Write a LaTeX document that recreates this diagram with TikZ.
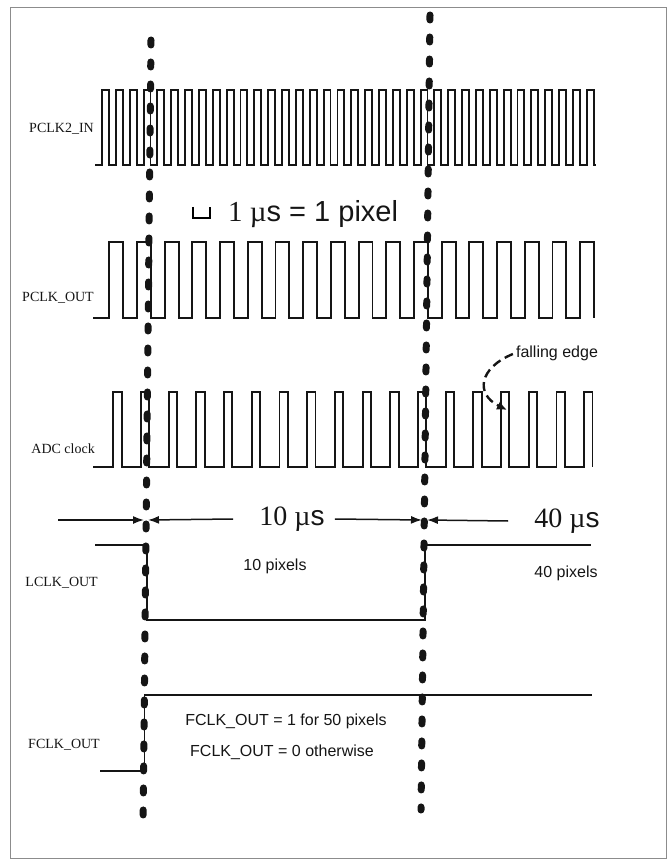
\documentclass[tikz,border=0pt]{standalone}
\usepackage{fontspec}
\setmainfont{Liberation Serif}
\setsansfont{Liberation Sans}
\usetikzlibrary{arrows.meta,positioning}
\definecolor{ink}{HTML}{151515}
\definecolor{framegray}{HTML}{8C8C8C}
\tikzset{
  >=Latex,
  every node/.style={text=ink,inner sep=0pt},
  sig/.style={font=\fontsize{14}{16}\selectfont\rmfamily,anchor=east},
  wave/.style={draw=ink,line width=1.9pt,line join=miter},
  cursor/.style={draw=ink,line width=7pt,line cap=round,dash pattern=on 5pt off 17pt},
  timearr/.style={->,draw=ink,line width=1.5pt,>={Latex[length=11pt,width=8pt]}},
  bigtime/.style={font=\fontsize{28}{30}\sffamily\selectfont},
  note/.style={font=\fontsize{16}{18}\sffamily\selectfont},
  hint/.style={draw=ink,line width=2.4pt,dash pattern=on 9pt off 5pt,-{Latex[length=10pt,width=9pt]}}
}

\begin{document}
\begin{tikzpicture}[x=1pt,y=-1pt]
  \useasboundingbox (0,0) rectangle (667,866);
  \draw[framegray,line width=1pt] (10,8) rectangle (666,858);

  % signal names
  \node[sig] (lblin) at (94,129) {PCLK2\_IN};
  \node[sig] (lblout) at (94,298) {PCLK\_OUT};
  \node[sig] (lbladc) at (95,449) {ADC clock};
  \node[sig] (lbllclk) at (98,583) {LCLK\_OUT};
  \node[sig] (lblfclk) at (100,745) {FCLK\_OUT};

  % clocks
  \draw[wave] (95,165) foreach \k in {0,...,35} {
    -- ({102+13.85*\k},165) -- ++(0,-75) -- ++(6.9,0) -- ++(0,75)} -- (596,165);
  \draw[wave] (93,318) foreach \k in {0,...,17} {
    -- ({109.3+27.7*\k},318) -- ++(0,-76) -- ++(13.85,0) -- ++(0,76)};
  \draw[wave] (93,467) foreach \k in {0,...,17} {
    -- ({113.3+27.7*\k},467) -- ++(0,-75) -- ++(8.3,0) -- ++(0,75)};
  \draw[wave] (95,545) -- (147,545) -- (147,620) -- (425,620) -- (425,545) -- (591,545);
  \draw[wave] (100,771) -- (144.5,771) -- (144.5,695) -- (592,695);

  % scale
  \draw[line width=2.2pt] (193,207) -- (193,218) -- (210,218) -- (210,207);
  \node[font=\fontsize{29}{31}\sffamily\selectfont,anchor=west] (scale) at (228,214)
    {{\rmfamily 1 µ}s = 1 pixel};

  % falling edge hint
  \node[note] (fe) at (557,353) {falling edge};
  \coordinate (fedge) at (507,410);
  \draw[hint] ([xshift=-3pt,yshift=-1pt]fe.west) .. controls +(-34,14) and +(-32,-16) .. (fedge);

  % markers
  \coordinate (m1top) at (151,40);
  \coordinate (m1bot) at (143,830);
  \coordinate (m2top) at (430,15);
  \coordinate (m2bot) at (421,810);

  % spans
  \node[bigtime] (t10) at (292,519) {{\rmfamily 10 µ}s};
  \node[bigtime] (t40) at (567,521) {{\rmfamily 40 µ}s};
  \coordinate (c0) at (58,520);
  \coordinate (c1l) at (144,520);
  \coordinate (c1r) at (148,520);
  \coordinate (c2l) at (422,520);
  \coordinate (c2r) at (427,520);
  \draw[timearr] (c0) -- (c1l);
  \draw[timearr] ([xshift=-26pt]t10.west) -- (c1r);
  \draw[timearr] ([xshift=10pt]t10.east) -- (c2l);
  \draw[timearr] ([xshift=-26pt]t40.west) -- (c2r);

  \node[note] (p10) at (275,566) {10 pixels};
  \node[note] (p40) at (566,573) {40 pixels};
  \node[note] (fone) at (286,721) {FCLK\_OUT = 1 for 50 pixels};
  \node[note] (fzero) at (282,752) {FCLK\_OUT = 0 otherwise};

  \draw[cursor] (m1top) -- (m1bot);
  \draw[cursor] (m2top) -- (m2bot);
\end{tikzpicture}
\end{document}
